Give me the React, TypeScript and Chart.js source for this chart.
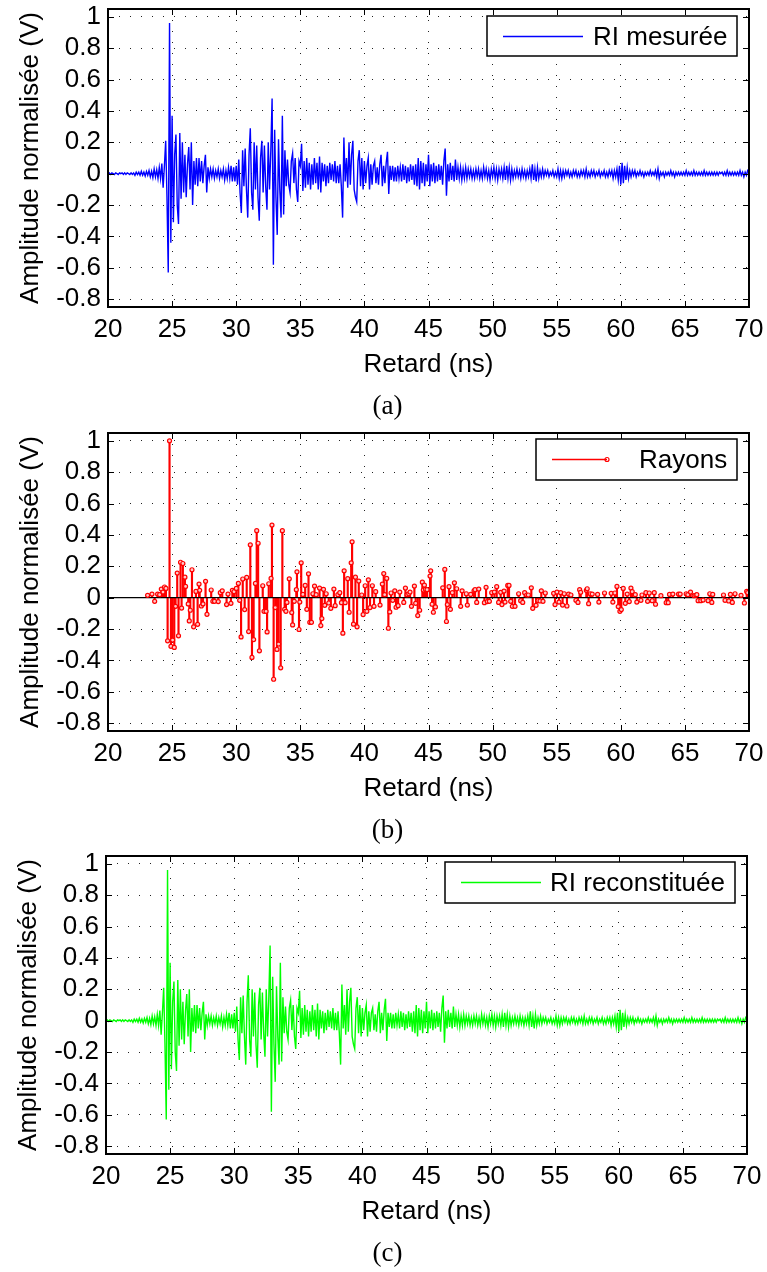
import React, { useEffect, useRef } from 'react';
import { Chart, registerables } from 'chart.js';

Chart.register(...registerables);

// ---------- axes ----------
const xTickValues = [20, 25, 30, 35, 40, 45, 50, 55, 60, 65, 70];
const xTickLabels = ['20', '25', '30', '35', '40', '45', '50', '55', '60', '65', '70'];
const yTickValues = [-0.8, -0.6, -0.4, -0.2, 0, 0.2, 0.4, 0.6, 0.8, 1];
const yTickLabels = ['-0.8', '-0.6', '-0.4', '-0.2', '0', '0.2', '0.4', '0.6', '0.8', '1'];
const X_MIN = 20;
const X_MAX = 70;
const Y_MIN = -0.85;
const Y_MAX = 1.05;
const xTitle = 'Retard (ns)';
const yTitle = 'Amplitude normalisée (V)';

// ---------- measured impulse response (sampled every 0.1 ns from 20 ns) ----------
const riStart = 20;
const riStep = 0.1;
const riMeasured = [
  // 20
  0, 0.005, -0.005, 0.005, 0, -0.005, 0.005, 0, -0.005, 0.005,
  // 21
  0, 0.005, -0.005, 0.005, -0.005, 0.005, 0, -0.005, 0.005, -0.005,
  // 22
  0.005, -0.01, 0.01, -0.005, 0.01, -0.01, 0.015, -0.01, 0.01, -0.015,
  // 23
  0.015, -0.01, 0.02, -0.02, 0.015, -0.025, 0.03, -0.02, 0.025, -0.03,
  // 24
  0.04, -0.03, 0.065, -0.09, 0.05, 0.21, -0.15, -0.63, 0.96, -0.44,
  // 25
  0.37, -0.31, 0.12, 0.25, -0.2, -0.32, 0.26, -0.16, 0.2, -0.12,
  // 26
  0.12, -0.15, 0.06, 0.17, -0.1, 0.2, -0.2, 0.08, -0.07, 0.1,
  // 27
  -0.08, 0.1, -0.05, 0.08, -0.06, 0.05, 0.12, -0.12, 0.04, -0.03,
  // 28
  0.03, -0.02, 0.03, -0.03, 0.02, -0.02, 0.03, -0.03, 0.02, -0.02,
  // 29
  0.03, -0.04, 0.02, -0.03, 0.04, -0.03, 0.05, -0.05, 0.04, -0.05,
  // 30
  0.05, -0.07, 0.09, -0.12, -0.25, 0.15, -0.08, 0.16, -0.1, -0.28,
  // 31
  0.12, 0.29, -0.12, -0.23, 0.2, -0.1, 0.18, -0.15, -0.3, 0.1,
  // 32
  0.21, -0.12, 0.18, -0.08, -0.23, 0.2, -0.1, 0.15, 0.48, -0.58,
  // 33
  0.28, -0.15, -0.39, 0.22, -0.1, -0.28, 0.37, -0.26, 0.15, -0.08,
  // 34
  0.09, -0.07, -0.12, 0.08, 0.13, -0.06, 0.1, -0.1, -0.18, 0.08,
  // 35
  0.05, 0.19, -0.11, 0.08, -0.09, 0.1, -0.07, 0.07, -0.1, 0.06,
  // 36
  -0.07, 0.1, -0.06, 0.07, -0.1, 0.11, -0.12, 0.07, -0.05, 0.06,
  // 37
  -0.08, 0.05, -0.06, 0.07, -0.04, 0.06, -0.05, 0.08, -0.06, 0.05,
  // 38
  -0.06, 0.06, -0.08, -0.28, 0.23, -0.05, 0.1, -0.09, 0.2, -0.07,
  // 39
  0.12, 0.21, -0.1, -0.15, -0.18, 0.08, 0.15, -0.08, 0.1, -0.1,
  // 40
  0.08, -0.06, 0.05, 0.1, -0.1, 0.06, -0.07, 0.05, 0.08, -0.06,
  // 41
  0.04, -0.07, 0.06, 0.12, -0.08, 0.05, -0.06, 0.07, 0.14, -0.13,
  // 42
  0.05, -0.04, 0.05, -0.05, 0.04, -0.05, 0.05, -0.03, 0.04, -0.05,
  // 43
  0.06, -0.04, 0.05, -0.06, 0.04, -0.05, 0.06, -0.04, 0.05, -0.07,
  // 44
  0.06, -0.08, 0.1, -0.1, 0.08, -0.06, 0.07, -0.08, 0.06, -0.05,
  // 45
  0.12, -0.08, 0.06, -0.05, 0.07, -0.06, 0.05, -0.05, 0.06, -0.04,
  // 46
  0.05, -0.07, 0.08, 0.16, -0.14, 0.06, -0.05, 0.07, -0.04, 0.05,
  // 47
  -0.05, 0.09, -0.04, 0.04, -0.03, 0.04, -0.04, 0.03, -0.03, 0.04,
  // 48
  -0.03, 0.03, -0.02, 0.03, -0.03, 0.02, -0.03, 0.03, -0.02, 0.03,
  // 49
  -0.03, 0.02, -0.03, 0.04, -0.02, 0.03, -0.03, 0.02, -0.04, 0.03,
  // 50
  -0.02, 0.04, -0.03, 0.03, -0.04, 0.03, -0.02, 0.03, -0.03, 0.04,
  // 51
  -0.04, 0.05, -0.03, 0.04, -0.04, 0.03, -0.03, 0.02, -0.02, 0.03,
  // 52
  -0.02, 0.02, -0.03, 0.03, -0.02, 0.02, -0.03, 0.02, -0.02, 0.03,
  // 53
  -0.03, 0.06, -0.04, 0.03, -0.05, 0.04, -0.03, 0.02, -0.02, 0.03,
  // 54
  -0.02, 0.02, -0.01, 0.02, -0.02, 0.01, -0.01, 0.02, -0.02, 0.01,
  // 55
  -0.02, 0.03, -0.03, 0.02, -0.03, 0.02, -0.02, 0.02, -0.01, 0.02,
  // 56
  -0.02, 0.01, -0.02, 0.02, -0.01, 0.02, -0.02, 0.01, -0.02, 0.02,
  // 57
  -0.01, 0.02, -0.02, 0.03, -0.02, 0.01, -0.02, 0.02, -0.01, 0.02,
  // 58
  -0.02, 0.01, -0.01, 0.02, -0.02, 0.01, -0.01, 0.02, -0.02, 0.01,
  // 59
  -0.02, 0.02, -0.01, 0.02, -0.03, 0.02, -0.02, 0.03, -0.04, 0.05,
  // 60
  -0.07, 0.07, -0.06, 0.05, -0.04, 0.04, -0.03, 0.02, -0.02, 0.02,
  // 61
  -0.01, 0.02, -0.02, 0.01, -0.01, 0.02, -0.01, 0.01, -0.02, 0.01,
  // 62
  -0.01, 0.01, -0.01, 0.02, -0.01, 0.01, -0.01, 0.02, -0.02, 0.03,
  // 63
  -0.03, 0.01, -0.01, 0.01, -0.02, 0.01, -0.01, 0.01, -0.01, 0.02,
  // 64
  -0.01, 0.01, -0.02, 0.01, -0.01, 0.01, -0.01, 0.01, -0.01, 0.01,
  // 65
  -0.01, 0.02, -0.01, 0.01, -0.01, 0.01, -0.01, 0.02, -0.01, 0.01,
  // 66
  -0.01, 0.01, -0.01, 0.01, -0.01, 0.02, -0.01, 0.01, -0.01, 0.01,
  // 67
  -0.01, 0.01, -0.01, 0.01, -0.01, 0.01, -0.01, 0.01, 0, 0.01,
  // 68
  -0.01, 0.01, -0.01, 0.02, -0.01, 0.01, -0.01, 0.01, -0.01, 0.01,
  // 69
  -0.01, 0.01, -0.01, 0.02, -0.01, 0.01, -0.02, 0.01, -0.01, 0.02,
  // 70
  0.01,
];

// reconstructed impulse response (visually identical to the measurement)
const riReconstructed = riMeasured;

// ---------- rays (stems) ----------
const rayDelays = [
  23.09, 23.43, 23.64, 23.87, 24.03, 24.16, 24.29, 24.41, 24.52, 24.65,
  24.80, 24.91, 25.04, 25.17, 25.27, 25.40, 25.50, 25.66, 25.74, 25.84,
  26.00, 26.05, 26.26, 26.34, 26.42, 26.55, 26.68, 26.86, 26.99, 27.10,
  27.15, 27.28, 27.41, 27.61, 27.72, 28.05, 28.18, 28.31, 28.60, 28.76,
  28.91, 29.25, 29.36, 29.59, 29.70, 29.83, 30.01, 30.17, 30.27, 30.38,
  30.51, 30.66, 30.82, 30.97, 31.10, 31.23, 31.36, 31.50, 31.60, 31.71,
  31.81, 32.07, 32.17, 32.33, 32.41, 32.54, 32.72, 32.79, 32.92, 33.05,
  33.18, 33.31, 33.47, 33.60, 33.78, 33.88, 33.96, 34.14, 34.33, 34.40,
  34.53, 34.69, 34.74, 34.90, 34.96, 35.07, 35.20, 35.38, 35.51, 35.64,
  35.74, 35.87, 35.98, 36.11, 36.24, 36.50, 36.60, 36.68, 36.81, 36.91,
  37.02, 37.22, 37.38, 37.62, 37.72, 37.93, 38.08, 38.21, 38.32, 38.42,
  38.50, 38.70, 38.81, 38.97, 39.04, 39.15, 39.30, 39.43, 39.56, 39.79,
  39.90, 40.06, 40.19, 40.31, 40.44, 40.62, 40.75, 40.88, 41.22, 41.40,
  41.51, 41.58, 41.74, 41.87, 41.98, 42.08, 42.21, 42.37, 42.47, 42.63,
  42.76, 43.07, 43.20, 43.33, 43.46, 43.56, 43.67, 43.90, 44.00, 44.16,
  44.31, 44.52, 44.60, 44.68, 44.76, 44.89, 45.12, 45.17, 45.28, 45.38,
  45.54, 46.11, 46.27, 46.40, 46.47, 46.60, 46.71, 46.86, 47.02, 47.20,
  47.51, 47.62, 47.95, 48.03, 48.29, 48.55, 48.63, 48.76, 48.92, 49.36,
  49.49, 49.59, 49.75, 49.93, 50.14, 50.32, 50.47, 50.63, 50.73, 50.89,
  50.97, 51.18, 51.28, 51.41, 51.54, 51.75, 52.03, 52.19, 52.35, 52.50,
  52.66, 52.79, 53.02, 53.13, 53.39, 53.54, 53.70, 53.80, 53.93, 54.11,
  54.76, 54.87, 55.02, 55.18, 55.31, 55.46, 55.59, 55.80, 55.93, 56.11,
  56.50, 56.66, 56.79, 56.87, 57.31, 57.38, 57.49, 57.62, 57.77, 58.19,
  58.29, 58.73, 59.25, 59.38, 59.54, 59.70, 59.80, 59.93, 60.04, 60.19,
  60.35, 60.50, 60.66, 60.79, 60.89, 61.13, 61.25, 61.57, 61.65, 61.96,
  62.09, 62.22, 62.45, 62.61, 62.71, 63.13, 63.54, 63.70, 63.80, 64.06,
  64.50, 64.63, 65.10, 65.23, 65.44, 65.72, 65.85, 65.93, 66.03, 66.24,
  66.42, 66.81, 66.94, 67.10, 67.17, 68.01, 68.13, 68.42, 68.55, 68.70,
  68.91, 69.38, 69.64, 69.82, 69.90,
];
const rayAmps = [
  0.015, 0.023, -0.023, 0.023, 0.019, 0.055, 0.036, 0.068, 0.059, -0.275,
  1.0, -0.31, -0.27, -0.317, -0.055, 0.157, -0.243, 0.226, -0.066, 0.218,
  0.131, 0.072, -0.04, -0.148, -0.08, 0.178, -0.186, 0.04, -0.17, 0.087,
  0.047, -0.053, -0.04, 0.104, -0.106, 0.049, -0.023, -0.023, -0.025, 0.032,
  0.044, -0.044, 0.023, -0.036, 0.047, 0.038, 0.059, 0.091, -0.017, -0.25,
  0.119, -0.076, 0.129, -0.216, 0.337, -0.381, -0.267, 0.091, 0.427, 0.347,
  -0.339, 0.076, -0.087, -0.087, -0.218, 0.089, 0.123, 0.463, -0.52, -0.063,
  -0.33, -0.296, -0.447, 0.427, -0.074, -0.087, -0.03, 0.12, -0.095, -0.174,
  -0.023, 0.051, 0.165, -0.203, -0.028, 0.222, 0.021, 0.078, -0.074, 0.152,
  -0.157, -0.157, 0.025, 0.074, 0.019, 0.061, -0.178, -0.133, 0.053, -0.049,
  0.025, -0.034, -0.068, 0.055, -0.051, 0.019, 0.032, -0.032, -0.226, 0.171,
  -0.032, 0.121, -0.093, 0.222, 0.356, -0.169, 0.131, -0.186, 0.106, 0.017,
  -0.108, 0.076, -0.087, 0.114, -0.063, 0.076, -0.055, 0.038, -0.047, 0.087,
  0.154, 0.019, 0.123, -0.195, -0.091, 0.03, -0.017, 0.044, -0.061, -0.051,
  0.036, -0.03, 0.061, 0.019, 0.025, 0.036, -0.055, 0.074, -0.036, -0.114,
  -0.08, 0.099, 0.049, 0.08, 0.053, 0.051, 0.138, 0.171, -0.042, -0.093,
  -0.059, 0.063, 0.18, -0.152, -0.044, 0.07, -0.074, 0.032, 0.095, 0.057,
  -0.055, 0.044, 0.025, -0.047, 0.021, 0.044, 0.051, -0.03, 0.055, -0.032,
  0.066, -0.025, -0.023, 0.032, 0.036, 0.07, -0.03, 0.034, -0.044, 0.042,
  -0.028, 0.078, 0.078, -0.023, -0.055, -0.055, 0.025, -0.019, -0.03, 0.032,
  0.017, 0.017, 0.063, -0.068, -0.049, -0.019, -0.021, 0.044, -0.023, 0.03,
  0.028, -0.044, 0.036, -0.028, 0.032, -0.047, 0.025, -0.053, 0.023, 0.017,
  -0.017, -0.03, 0.051, 0.034, 0.047, 0.057, -0.038, 0.025, 0.023, 0.021,
  -0.028, 0.03, 0.028, -0.028, 0.03, 0.072, -0.057, -0.087, -0.076, 0.059,
  -0.036, 0.023, -0.025, 0.061, 0.038, 0.019, -0.028, -0.017, 0.017, 0.032,
  -0.023, 0.03, -0.019, 0.032, -0.042, 0.013, -0.032, -0.032, 0.021, 0.023,
  0.023, 0.023, 0.025, 0.019, 0.036, 0.013, 0.015, 0.019, -0.019, -0.019,
  -0.015, -0.019, 0.025, -0.03, 0.021, 0.017, -0.017, -0.021, 0.021, -0.03,
  0.025, 0.015, -0.034, 0.04, 0.032,
];

const legendTexts = ['RI mesurée', 'Rayons', 'RI reconstituée'];
const captions = ['(a)', '(b)', '(c)'];
const SANS = '"Liberation Sans", Arial, Helvetica, sans-serif';
const SERIF = '"Liberation Serif", "Times New Roman", serif';

const CANVAS_W = 767;

type PanelDef = {
  top: number;
  left: number;
  height: number;
  kind: 'line' | 'stem';
  color: string;
  values: number[];
  legend: { x: number; y: number; w: number; h: number; l1: number; l2: number; tx: number; text: string; marker: boolean };
  caption: string;
  captionX: number;
};

const panels: PanelDef[] = [
  {
    top: 0, left: 0, height: 424, kind: 'line', color: '#0000ff', values: riMeasured,
    legend: { x: 487, y: 16, w: 250, h: 40, l1: 503, l2: 583, tx: 593, text: legendTexts[0], marker: false },
    caption: captions[0], captionX: 387.5,
  },
  {
    top: 424, left: 0, height: 423, kind: 'stem', color: '#ff0000', values: rayAmps,
    legend: { x: 536, y: 15, w: 201, h: 41, l1: 552, l2: 607, tx: 639, text: legendTexts[1], marker: true },
    caption: captions[1], captionX: 387.5,
  },
  {
    top: 847, left: -2, height: 425, kind: 'line', color: '#00ff00', values: riReconstructed,
    legend: { x: 447, y: 15, w: 290, h: 41, l1: 463, l2: 543, tx: 552, text: legendTexts[2], marker: false },
    caption: captions[2], captionX: 389.5,
  },
];

const decorPlugin = {
  id: 'decor',
  afterDraw(chart: any, _args: any, opts: any) {
    const { ctx, chartArea } = chart;
    const { left, right, top, bottom } = chartArea;
    const xs = chart.scales.x;
    const ys = chart.scales.y;
    ctx.save();
    // inside tick marks on all four sides
    ctx.strokeStyle = '#000';
    ctx.lineWidth = 1;
    ctx.setLineDash([]);
    ctx.beginPath();
    for (const v of xTickValues) {
      const px = Math.round(xs.getPixelForValue(v)) + 0.5;
      ctx.moveTo(px, bottom);
      ctx.lineTo(px, bottom - 6);
      ctx.moveTo(px, top);
      ctx.lineTo(px, top + 6);
    }
    for (const v of yTickValues) {
      const py = Math.round(ys.getPixelForValue(v)) + 0.5;
      ctx.moveTo(left, py);
      ctx.lineTo(left + 6, py);
      ctx.moveTo(right, py);
      ctx.lineTo(right - 6, py);
    }
    ctx.stroke();
    // frame
    ctx.lineWidth = 2;
    ctx.strokeRect(left, top, right - left, bottom - top);

    // legend
    const L = opts.legend;
    ctx.fillStyle = '#fff';
    ctx.fillRect(L.x, L.y, L.w, L.h);
    ctx.lineWidth = 1.5;
    ctx.strokeStyle = '#000';
    ctx.strokeRect(L.x, L.y, L.w, L.h);
    const ly = L.y + 20.5;
    ctx.strokeStyle = opts.color;
    ctx.lineWidth = 1.3;
    ctx.beginPath();
    ctx.moveTo(L.l1, ly);
    ctx.lineTo(L.l2, ly);
    ctx.stroke();
    if (L.marker) {
      ctx.beginPath();
      ctx.arc(L.l2, ly, 2, 0, Math.PI * 2);
      ctx.lineWidth = 1.2;
      ctx.stroke();
    }
    ctx.fillStyle = '#000';
    ctx.font = `26px ${SANS}`;
    ctx.textAlign = 'left';
    ctx.textBaseline = 'alphabetic';
    ctx.fillText(L.text, L.tx, L.y + 29);

    // caption
    ctx.font = `27px ${SERIF}`;
    ctx.textAlign = 'center';
    ctx.fillText(opts.caption, opts.captionX, 414);
    ctx.restore();
  },
};

function tickLabel(values: number[], labels: string[], v: number) {
  const i = values.findIndex((t) => Math.abs(t - v) < 1e-6);
  return i >= 0 ? labels[i] : '';
}

function buildConfig(p: PanelDef, canvasH: number): any {
  const chartTop = 9;
  const chartBottom = 307;
  const xAxisH = 80;
  const datasets: any[] = [];
  if (p.kind === 'line') {
    datasets.push({
      type: 'line',
      data: p.values.map((v, i) => ({ x: riStart + i * riStep, y: v })),
      borderColor: p.color,
      borderWidth: 1.4,
      pointRadius: 0,
      tension: 0,
      fill: false,
    });
  } else {
    datasets.push({
      type: 'line',
      data: rayDelays.map((t, i) => ({ x: t, y: rayAmps[i] })),
      showLine: false,
      pointRadius: 2,
      pointBorderWidth: 1.2,
      pointBorderColor: p.color,
      pointBackgroundColor: 'rgba(255,200,200,1)',
      order: 0,
    });
    datasets.push({
      type: 'line',
      data: [{ x: X_MIN, y: 0 }, { x: X_MAX, y: 0 }],
      borderColor: '#000',
      borderWidth: 1.3,
      pointRadius: 0,
      order: 1,
    });
    datasets.push({
      type: 'bar',
      data: rayDelays.map((t, i) => ({ x: t, y: rayAmps[i] })),
      backgroundColor: p.color,
      barThickness: 1.5,
      borderWidth: 0,
      order: 2,
    });
  }
  const gridOpts = { color: '#222', lineWidth: 1, drawTicks: false, offset: false };
  const borderOpts = { display: false, dash: [1, 10] };
  return {
    type: 'line',
    data: { datasets },
    options: {
      responsive: false,
      animation: false,
      events: [],
      layout: {
        autoPadding: false,
        padding: { left: 0, top: chartTop, right: CANVAS_W - 749, bottom: canvasH - chartBottom - xAxisH },
      },
      plugins: {
        legend: { display: false },
        tooltip: { enabled: false },
        decor: { legend: p.legend, caption: p.caption, captionX: p.captionX, color: p.color },
      },
      scales: {
        x: {
          type: 'linear',
          min: X_MIN,
          max: X_MAX,
          offset: false,
          afterBuildTicks: (s: any) => { s.ticks = xTickValues.map((v) => ({ value: v })); },
          afterFit: (s: any) => { s.height = xAxisH; s.paddingLeft = 0; s.paddingRight = 0; },
          ticks: {
            callback: (v: number) => tickLabel(xTickValues, xTickLabels, v),
            font: { family: SANS, size: 26 },
            color: '#000',
            padding: 7,
            maxRotation: 0,
            autoSkip: false,
          },
          grid: gridOpts,
          border: borderOpts,
          title: { display: true, text: xTitle, color: '#000', font: { family: SANS, size: 26 }, padding: { top: 0, bottom: 7 } },
        },
        y: {
          type: 'linear',
          min: Y_MIN,
          max: Y_MAX,
          afterBuildTicks: (s: any) => { s.ticks = yTickValues.map((v) => ({ value: v })); },
          afterFit: (s: any) => { s.width = 108; s.paddingTop = 0; s.paddingBottom = 0; },
          ticks: {
            callback: (v: number) => tickLabel(yTickValues, yTickLabels, v),
            font: { family: SANS, size: 26 },
            color: '#000',
            padding: 7,
            autoSkip: false,
          },
          grid: gridOpts,
          border: borderOpts,
          title: { display: true, text: yTitle, color: '#000', font: { family: SANS, size: 26 }, padding: { top: 15, bottom: 0 } },
        },
      },
    },
    plugins: [decorPlugin],
  };
}

function Panel({ p }: { p: PanelDef }) {
  const ref = useRef<HTMLCanvasElement | null>(null);
  useEffect(() => {
    if (!ref.current) return;
    const chart = new Chart(ref.current, buildConfig(p, p.height));
    return () => chart.destroy();
  }, [p]);
  return (
    <canvas
      ref={ref}
      width={CANVAS_W}
      height={p.height}
      style={{ position: 'absolute', left: p.left, top: p.top, width: CANVAS_W, height: p.height }}
    />
  );
}

export default function App() {
  return (
    <div style={{ position: 'absolute', left: 0, top: 0, width: CANVAS_W, height: 1272, background: '#fff', overflow: 'hidden' }}>
      {panels.map((p, i) => (
        <Panel key={i} p={p} />
      ))}
    </div>
  );
}
